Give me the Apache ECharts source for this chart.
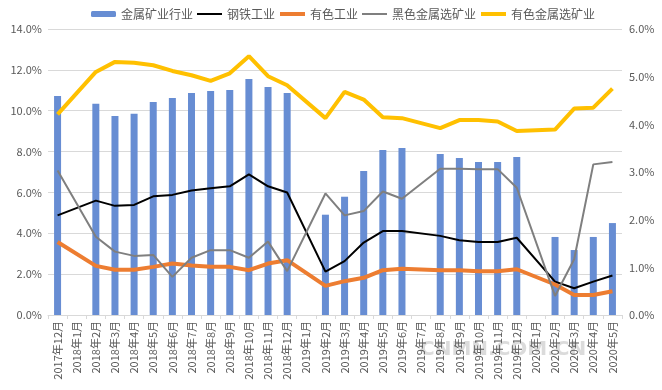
<!DOCTYPE html>
<html>
<head>
<meta charset="utf-8">
<script src="https://cdn.jsdelivr.net/npm/echarts@6/dist/echarts.min.js"></script>
<style>
html,body{margin:0;padding:0;background:#fff;}
#c{width:662px;height:390px;}
</style>
</head>
<body>
<div id="c"></div>
<script>
const categories = ['2017年12月','2018年1月','2018年2月','2018年3月','2018年4月','2018年5月','2018年6月','2018年7月','2018年8月','2018年9月','2018年10月','2018年11月','2018年12月','2019年1月','2019年2月','2019年3月','2019年4月','2019年5月','2019年6月','2019年7月','2019年8月','2019年9月','2019年10月','2019年11月','2019年12月','2020年1月','2020年2月','2020年3月','2020年4月','2020年5月'];
const metalMining = [10.72,null,10.34,9.74,9.85,10.43,10.62,10.87,10.97,11.01,11.55,11.16,10.87,null,4.91,5.79,7.05,8.08,8.17,null,7.88,7.69,7.49,7.49,7.73,null,3.82,3.18,3.82,4.50];
const steel = [2.09,null,2.40,2.29,2.31,2.49,2.52,2.61,2.66,2.70,2.95,2.70,2.57,null,0.91,1.13,1.52,1.76,1.76,null,1.66,1.57,1.53,1.53,1.62,null,0.70,0.56,0.70,0.83];
const nonferrous = [1.53,null,1.03,0.95,0.95,1.01,1.08,1.04,1.01,1.01,0.94,1.08,1.15,null,0.61,0.71,0.78,0.94,0.97,null,0.94,0.94,0.92,0.92,0.96,null,0.64,0.42,0.42,0.50];
const ferrousMining = [3.03,null,1.64,1.33,1.24,1.26,0.80,1.20,1.36,1.36,1.20,1.54,0.92,null,2.55,2.09,2.18,2.59,2.44,null,3.07,3.07,3.06,3.06,2.67,null,0.40,1.17,3.16,3.21];
const nonferrousMining = [4.21,null,5.10,5.31,5.29,5.24,5.12,5.03,4.91,5.07,5.43,5.01,4.82,null,4.13,4.68,4.52,4.15,4.13,null,3.92,4.09,4.09,4.06,3.86,null,3.89,4.33,4.35,4.75];
const leftTicks = {min:0, max:14, interval:2};
const rightTicks = {min:0, max:6, interval:1};

const chart = echarts.init(document.getElementById('c'));
const font = '"Noto Sans CJK SC", "Noto Sans", sans-serif';
const pct = v => v.toFixed(1) + '%';
const noSym = {opacity:0};
chart.setOption({
  animation:false,
  textStyle:{fontFamily:font},
  legend:{
    left:86, top:3, itemWidth:25, itemHeight:6, itemGap:3,
    textStyle:{fontSize:12, color:'#595959', fontFamily:font},
    data:[
      {name:'金属矿业行业'},
      {name:'钢铁工业', itemStyle:noSym, lineStyle:{width:2}},
      {name:'有色工业', itemStyle:noSym, lineStyle:{width:4}},
      {name:'黑色金属选矿业', itemStyle:noSym, lineStyle:{width:2}},
      {name:'有色金属选矿业', itemStyle:noSym, lineStyle:{width:4}}
    ]
  },
  grid:{left:48, right:40, top:29, bottom:75},
  xAxis:{
    type:'category', data:categories, boundaryGap:true,
    axisLine:{lineStyle:{color:'#d9d9d9'}},
    axisTick:{show:true, alignWithLabel:false, length:4, lineStyle:{color:'#d9d9d9'}},
    axisLabel:{rotate:90, interval:0, fontSize:11, color:'#595959', fontFamily:font, margin:6}
  },
  yAxis:[
    {type:'value', min:leftTicks.min, max:leftTicks.max, interval:leftTicks.interval,
     axisLabel:{formatter:pct, fontSize:11, color:'#595959', margin:6},
     axisLine:{show:false}, axisTick:{show:false},
     splitLine:{lineStyle:{color:'#d9d9d9'}}},
    {type:'value', min:rightTicks.min, max:rightTicks.max, interval:rightTicks.interval,
     axisLabel:{formatter:pct, fontSize:11, color:'#595959', margin:7},
     axisLine:{show:false}, axisTick:{show:false},
     splitLine:{show:false}}
  ],
  series:[
    {name:'金属矿业行业', type:'bar', data:metalMining, yAxisIndex:0, barWidth:7,
     itemStyle:{color:'#678DD3'}},
    {name:'钢铁工业', type:'line', data:steel, yAxisIndex:1, connectNulls:true, symbol:'none',
     lineStyle:{color:'#000000', width:2}, itemStyle:{color:'#000000'}},
    {name:'有色工业', type:'line', data:nonferrous, yAxisIndex:1, connectNulls:true, symbol:'none',
     lineStyle:{color:'#ED7D31', width:4}, itemStyle:{color:'#ED7D31'}},
    {name:'黑色金属选矿业', type:'line', data:ferrousMining, yAxisIndex:1, connectNulls:true, symbol:'none',
     lineStyle:{color:'#7F7F7F', width:2}, itemStyle:{color:'#7F7F7F'}},
    {name:'有色金属选矿业', type:'line', data:nonferrousMining, yAxisIndex:1, connectNulls:true, symbol:'none',
     lineStyle:{color:'#FFC000', width:4}, itemStyle:{color:'#FFC000'}}
  ],
  graphic:[
    {type:'text', left:420, top:340, silent:true,
     style:{text:'CNMN.COM.CN', fontSize:20, fontWeight:'bold', fill:'rgba(190,190,190,0.55)', fontFamily:'"DejaVu Sans", sans-serif'}}
  ]
});
</script>
</body>
</html>
